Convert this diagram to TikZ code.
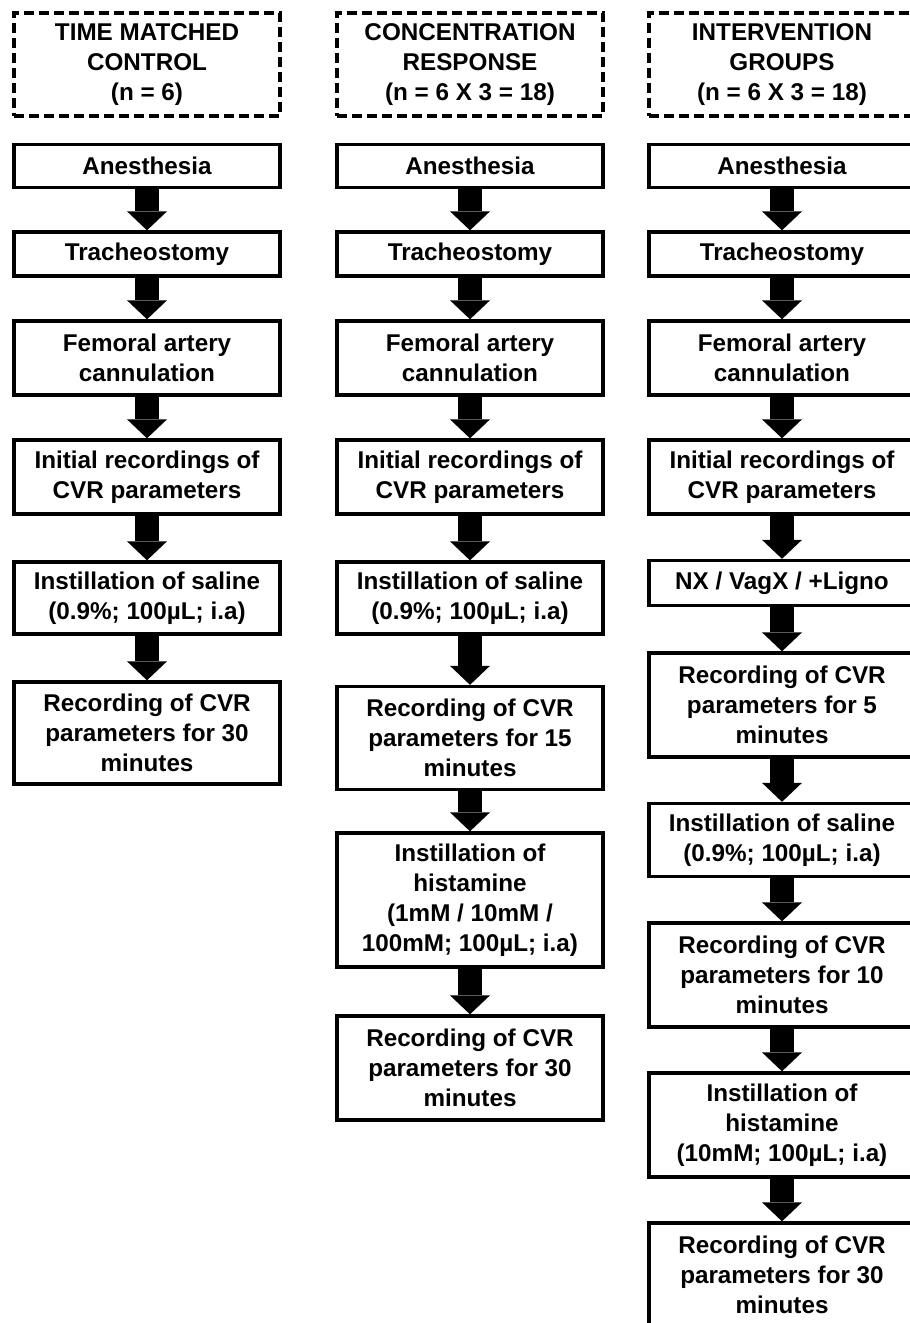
\documentclass[tikz,border=0pt]{standalone}
\usepackage{fontspec}
\setmainfont{Liberation Sans}
\usetikzlibrary{positioning, arrows.meta}

\begin{document}
\begin{tikzpicture}[x=0.02cm, y=-0.02cm,
    stage/.style={draw, line width=1.9pt, minimum width=5.32cm, minimum height=#1*0.02cm,
        inner sep=0pt, align=center, font=\fontsize{13.8}{17}\selectfont\bfseries},
    stage/.default=43,
    group/.style={stage=#1, dash pattern=on 0.2cm off 0.1cm},
    flow/.style={line width=0.48cm, -{Triangle[width=0.8cm, length=0.38cm, line width=0pt]}}]
    \useasboundingbox (0,0) rectangle (910,1323);

    % Time matched control
    \begin{scope}[shift={(147,0)}]
        \node[group=103] (tHead) at (0,64.5) {TIME MATCHED\\CONTROL\\(n = 6)};
        \node[stage=43] (tAnes) at (0,166) {Anesthesia};
        \node[stage=44] (tTrach) at (0,254) {Tracheostomy};
        \node[stage=74] (tFem) at (0,358) {Femoral artery\\cannulation};
        \node[stage=74] (tInit) at (0,477) {Initial recordings of\\CVR parameters};
        \node[stage=72] (tSal) at (0,598) {Instillation of saline\\(0.9\%; 100µL; i.a)};
        \node[stage=102] (tRec) at (0,733) {Recording of CVR\\parameters for 30\\minutes};
        % Arrows
        \draw[flow] (tAnes) -- (tTrach);
        \draw[flow] (tTrach) -- (tFem);
        \draw[flow] (tFem) -- (tInit);
        \draw[flow] (tInit) -- (tSal);
        \draw[flow] (tSal) -- (tRec);
    \end{scope}

    % Concentration response
    \begin{scope}[shift={(470,0)}]
        \node[group=103] (cHead) at (0,64.5) {CONCENTRATION\\RESPONSE\\(n = 6 X 3 = 18)};
        \node[stage=43] (cAnes) at (0,166) {Anesthesia};
        \node[stage=44] (cTrach) at (0,254) {Tracheostomy};
        \node[stage=74] (cFem) at (0,358) {Femoral artery\\cannulation};
        \node[stage=74] (cInit) at (0,477) {Initial recordings of\\CVR parameters};
        \node[stage=72] (cSal) at (0,598) {Instillation of saline\\(0.9\%; 100µL; i.a)};
        \node[stage=103] (cRecA) at (0,738) {Recording of CVR\\parameters for 15\\minutes};
        \node[stage=134] (cHist) at (0,900) {Instillation of\\histamine\\(1mM / 10mM /\\100mM; 100µL; i.a)};
        \node[stage=104] (cRecB) at (0,1068) {Recording of CVR\\parameters for 30\\minutes};
        % Arrows
        \draw[flow] (cAnes) -- (cTrach);
        \draw[flow] (cTrach) -- (cFem);
        \draw[flow] (cFem) -- (cInit);
        \draw[flow] (cInit) -- (cSal);
        \draw[flow] (cSal) -- (cRecA);
        \draw[flow] (cRecA) -- (cHist);
        \draw[flow] (cHist) -- (cRecB);
    \end{scope}

    % Intervention groups
    \begin{scope}[shift={(782,0)}]
        \node[group=103] (iHead) at (0,64.5) {INTERVENTION\\GROUPS\\(n = 6 X 3 = 18)};
        \node[stage=43] (iAnes) at (0,166) {Anesthesia};
        \node[stage=44] (iTrach) at (0,254) {Tracheostomy};
        \node[stage=74] (iFem) at (0,358) {Femoral artery\\cannulation};
        \node[stage=74] (iInit) at (0,477) {Initial recordings of\\CVR parameters};
        \node[stage=45] (iNx) at (0,583) {NX / VagX / +Ligno};
        \node[stage=104] (iRecA) at (0,705) {Recording of CVR\\parameters for 5\\minutes};
        \node[stage=73] (iSal) at (0,840) {Instillation of saline\\(0.9\%; 100µL; i.a)};
        \node[stage=104] (iRecB) at (0,975) {Recording of CVR\\parameters for 10\\minutes};
        \node[stage=104] (iHist) at (0,1125) {Instillation of\\histamine\\(10mM; 100µL; i.a)};
        \node[stage=104] (iRecC) at (0,1275) {Recording of CVR\\parameters for 30\\minutes};
        % Arrows
        \draw[flow] (iAnes) -- (iTrach);
        \draw[flow] (iTrach) -- (iFem);
        \draw[flow] (iFem) -- (iInit);
        \draw[flow] (iInit) -- (iNx);
        \draw[flow] (iNx) -- (iRecA);
        \draw[flow] (iRecA) -- (iSal);
        \draw[flow] (iSal) -- (iRecB);
        \draw[flow] (iRecB) -- (iHist);
        \draw[flow] (iHist) -- (iRecC);
    \end{scope}
\end{tikzpicture}
\end{document}
